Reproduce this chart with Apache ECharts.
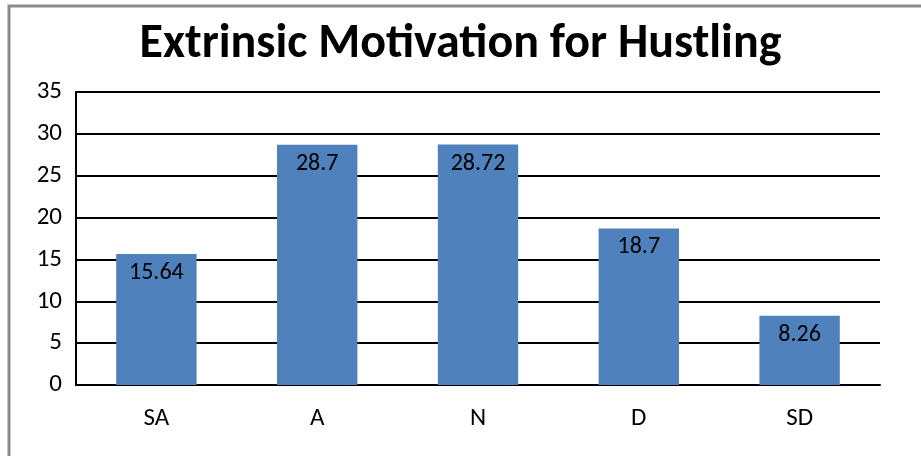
<!DOCTYPE html>
<html>
<head>
<meta charset="utf-8">
<script src="https://cdn.jsdelivr.net/npm/echarts@6/dist/echarts.min.js"></script>
<style>
  html, body { margin: 0; padding: 0; background: #fff; }
  #chart { width: 921px; height: 456px; }
</style>
</head>
<body>
<div id="chart"></div>
<script>
// data
var categories = ['SA', 'A', 'N', 'D', 'SD'];
var values = [15.64, 28.7, 28.72, 18.7, 8.26];
var labels = ['15.64', '28.7', '28.72', '18.7', '8.26'];

var font = 'Carlito, Lato, "Open Sans", sans-serif';

var chart = echarts.init(document.getElementById('chart'));
chart.setOption({
    animation: false,
    textStyle: { fontFamily: font },
    graphic: [{
        type: 'rect',
        shape: { x: 9, y: 6, width: 930, height: 470 },
        style: { fill: 'none', stroke: '#8c8c8c', lineWidth: 3 },
        silent: true
    }],
    title: {
        text: 'Extrinsic Motivation for Hustling',
        left: 'center',
        top: 16,
        textStyle: { fontFamily: font, fontSize: 48, fontWeight: 'bold', color: '#000' }
    },
    grid: { left: 76, right: 41, top: 92, bottom: 71 },
    xAxis: {
        type: 'category',
        data: categories,
        axisLine: { lineStyle: { color: '#000', width: 2 } },
        axisTick: { show: false },
        axisLabel: { color: '#000', fontSize: 25, margin: 21, fontFamily: font }
    },
    yAxis: {
        type: 'value',
        min: 0,
        max: 35,
        interval: 5,
        axisLine: { show: true, lineStyle: { color: '#000', width: 2 } },
        axisTick: { show: false },
        axisLabel: { color: '#000', fontSize: 25, margin: 14, fontFamily: font },
        splitLine: { lineStyle: { color: '#000', width: 2 } }
    },
    series: [{
        type: 'bar',
        data: values,
        barWidth: '50%',
        itemStyle: { color: '#4f81bd' },
        label: {
            show: true,
            position: 'insideTop',
            distance: 7,
            color: '#000',
            fontSize: 24,
            fontFamily: font,
            formatter: function (p) { return labels[p.dataIndex]; }
        }
    }]
});
</script>
</body>
</html>
